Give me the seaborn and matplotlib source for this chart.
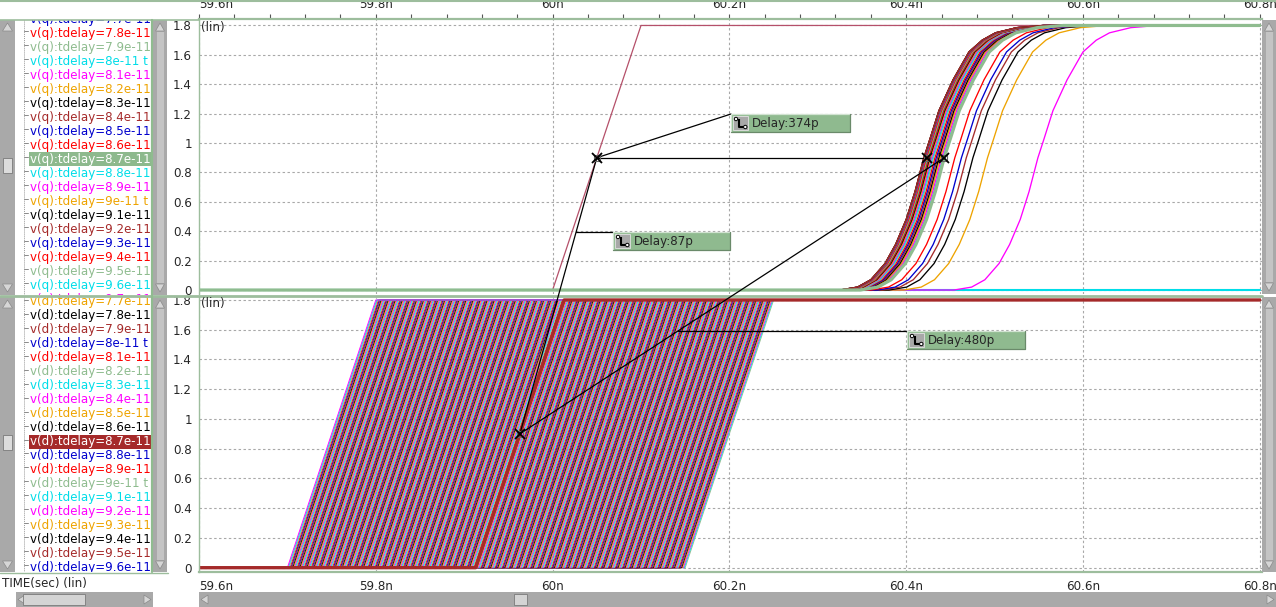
import numpy as np
import pandas as pd
import matplotlib
matplotlib.use("Agg")
import matplotlib.pyplot as plt
from matplotlib.patches import Rectangle, Polygon, Circle
from matplotlib.ticker import MultipleLocator
import seaborn as sns

# ------------------------------------------------------------------ data
VDD = 1.8
T_START, T_STOP = 59.6, 60.8          # ns

# colour cycle of the waveform viewer
COLOR_CYCLE = ["#ff0000", "#8fbc8f", "#00dde8", "#ff00ff",
               "#eea300", "#000000", "#a52a2a", "#0000cd"]
Q_COLOR_OFFSET = 78                   # tdelay (ps) of v(q) drawn with COLOR_CYCLE[0]
D_COLOR_OFFSET = 81                   # tdelay (ps) of v(d) drawn with COLOR_CYCLE[0]

# swept data-edge delay (ps) : .param sweep start / stop / step
TDELAY_START_PS, TDELAY_STOP_PS, TDELAY_STEP_PS = -150, 300, 1
D_EDGE_REF_NS = 60.0                  # d ramp starts at D_EDGE_REF_NS - tdelay
D_RISE_NS = 0.1

# clock (top panel)
CLK_T = [59.6, 60.0, 60.1, 60.8]
CLK_V = [0.0, 0.0, 1.8, 1.8]

# q outputs: tdelay (ps) and time of the 0.9 V crossing (ns)
Q_TDELAY_PS = [81, 82, 83, 84, 85, 86, 87, 88, 89, 90, 91, 92, 93, 94, 95,
               96, 97, 98, 99, 100, 102, 104, 106, 108, 110, 113, 116, 120,
               125, 130, 140, 150, 165, 180, 200, 225, 250, 275, 300]
Q_CROSS_NS = [60.549, 60.492, 60.4755, 60.468, 60.4625, 60.455, 60.443,
              60.4415, 60.440, 60.4385, 60.437, 60.4355, 60.434, 60.4325,
              60.431, 60.4298, 60.4286, 60.4275, 60.4265, 60.4256, 60.4248,
              60.424, 60.4233, 60.4227, 60.4222, 60.4218, 60.4215, 60.4212,
              60.421, 60.4208, 60.4206, 60.4205, 60.4204, 60.4203, 60.4202,
              60.4201, 60.420, 60.420, 60.420]
Q_FAIL_TDELAY_PS = [80]               # q never switches
HIGHLIGHT_TDELAY_PS = 87

# q edge shape: offset from 0.9 V crossing (ps), volts
Q_EDGE_OFFSET_PS = [-95, -75, -60, -44, -32, -20, -10, 0, 7, 17, 33, 51, 66, 81, 105, 135]
Q_EDGE_V = [0.0, 0.02, 0.07, 0.18, 0.31, 0.48, 0.67, 0.9, 1.03, 1.22, 1.43, 1.62, 1.70, 1.75, 1.785, 1.8]

# measurement markers (ns, V)
MEAS_A = (59.963, 0.9)    # d(tdelay=87p) 50 %
MEAS_B = (60.050, 0.9)    # clk 50 %
MEAS_C = (60.424, 0.9)    # first q 50 %
MEAS_D = (60.443, 0.9)    # q(tdelay=87p) 50 %
DELAY_LABELS = ["Delay:374p", "Delay:87p", "Delay:480p"]

# list-box entries
Q_LIST_TDELAY = ["7.7e-11", "7.8e-11", "7.9e-11", "8e-11", "8.1e-11", "8.2e-11",
                 "8.3e-11", "8.4e-11", "8.5e-11", "8.6e-11", "8.7e-11", "8.8e-11",
                 "8.9e-11", "9e-11", "9.1e-11", "9.2e-11", "9.3e-11", "9.4e-11",
                 "9.5e-11", "9.6e-11", "9.7e-11"]
D_LIST_TDELAY = Q_LIST_TDELAY[:20]

X_TICKS = [59.6, 59.8, 60.0, 60.2, 60.4, 60.6, 60.8]
X_TICK_LABELS = ["59.6n", "59.8n", "60n", "60.2n", "60.4n", "60.6n", "60.8n"]
Y_TICKS = [0, 0.2, 0.4, 0.6, 0.8, 1.0, 1.2, 1.4, 1.6, 1.8]
Y_TICK_LABELS = ["0", "0.2", "0.4", "0.6", "0.8", "1", "1.2", "1.4", "1.6", "1.8"]

# ------------------------------------------------------------------ style
sns.set_style("white")
plt.rcParams["font.family"] = ["DejaVu Sans"]
FS = 8.6
W, H = 1276, 607
GREENLINE = "#9dbd9d"
GRAY = "#a9a9a9"


def qcolor(td):
    return COLOR_CYCLE[(td - Q_COLOR_OFFSET) % 8]


def dcolor(td):
    return COLOR_CYCLE[(td - D_COLOR_OFFSET) % 8]


def rect(x0, y0, x1, y1):
    return [x0 / W, 1 - y1 / H, (x1 - x0) / W, (y1 - y0) / H]


fig = plt.figure(figsize=(W / 100, H / 100), dpi=100)
fig.patch.set_facecolor("white")

ax_q = fig.add_axes(rect(199, 19, 1262, 294))
ax_d = fig.add_axes(rect(199, 297, 1262, 572))

# ------------------------------------------------------------------ dataframes
d_tdelay = np.arange(TDELAY_START_PS, TDELAY_STOP_PS + 1, TDELAY_STEP_PS)
rows = []
for td in d_tdelay:
    s = D_EDGE_REF_NS - td / 1000.0
    for t, v in zip([T_START, s, s + D_RISE_NS, T_STOP], [0, 0, VDD, VDD]):
        rows.append(("d%d" % td, t, v))
df_d = pd.DataFrame(rows, columns=["trace", "t", "v"])
d_order = ["d%d" % td for td in d_tdelay]
d_pal = {"d%d" % td: dcolor(int(td)) for td in d_tdelay}

rows = []
for td, tc in zip(Q_TDELAY_PS, Q_CROSS_NS):
    pts = [(T_START, 0.0)] + [(tc + o / 1000.0, v) for o, v in zip(Q_EDGE_OFFSET_PS, Q_EDGE_V)] + [(T_STOP, VDD)]
    for t, v in pts:
        rows.append(("q%d" % td, t, v))
df_q = pd.DataFrame(rows, columns=["trace", "t", "v"])
q_order = ["q%d" % td for td in Q_TDELAY_PS]
q_pal = {"q%d" % td: qcolor(td) for td in Q_TDELAY_PS}

df_fail = pd.DataFrame([("q%d" % td, t, 0.0) for td in Q_FAIL_TDELAY_PS for t in (T_START, T_STOP)],
                       columns=["trace", "t", "v"])
df_clk = pd.DataFrame({"trace": "clk", "t": CLK_T, "v": CLK_V})


def lines(ax, df, pal, lw, order=None):
    sns.lineplot(data=df, x="t", y="v", hue="trace", hue_order=order, palette=pal,
                 estimator=None, sort=False, legend=False, linewidth=lw, ax=ax)


# ---- bottom panel : v(d)
lines(ax_d, df_d, d_pal, 0.65, d_order)
hl = "d%d" % HIGHLIGHT_TDELAY_PS
lines(ax_d, df_d[df_d.trace == hl], {hl: "#a52a2a"}, 2.4)

# ---- top panel : clk + v(q)
lines(ax_q, df_clk, {"clk": "#b5506a"}, 0.9)
lines(ax_q, df_fail, {"q%d" % td: qcolor(td) for td in Q_FAIL_TDELAY_PS}, 1.5)
lines(ax_q, df_q, q_pal, 0.95, q_order)
hq = "q%d" % HIGHLIGHT_TDELAY_PS
lines(ax_q, df_q[df_q.trace == hq], {hq: "#8fbc8f"}, 2.3)

# ------------------------------------------------------------------ axes styling
for ax, ylim in ((ax_q, (-0.027, 1.844)), (ax_d, (-0.029, 1.820))):
    ax.set_xlim(T_START, 60.8025)
    ax.set_ylim(*ylim)
    ax.set_xlabel("")
    ax.set_ylabel("")
    ax.set_facecolor("white")
    ax.set_axisbelow(True)
    ax.grid(True, which="major", color="#a8a8a8", linestyle=(0, (2.2, 2.2)), linewidth=0.8)
    ax.set_xticks(X_TICKS, X_TICK_LABELS)
    ax.set_yticks(Y_TICKS, Y_TICK_LABELS)
    ax.xaxis.set_minor_locator(MultipleLocator(0.04))
    ax.yaxis.set_minor_locator(MultipleLocator(0.04))
    ax.tick_params(axis="y", which="major", length=4.3, width=0.8, color="#555555",
                   pad=0.8, labelsize=FS, direction="out")
    ax.tick_params(axis="y", which="minor", length=2.2, width=0.6, color="#777777", direction="out")
    ax.tick_params(axis="x", which="both", length=3.8, width=0.8, color="#555555",
                   pad=1.6, labelsize=FS, direction="out")
    for s in ax.spines.values():
        s.set_visible(False)
    ax.spines["left"].set_visible(True)
    ax.spines["left"].set_color(GREENLINE)
    ax.spines["left"].set_linewidth(1.0)

ax_q.xaxis.tick_top()
ax_q.spines["top"].set_visible(True)
ax_q.spines["top"].set_color(GREENLINE)
ax_q.spines["top"].set_linewidth(1.6)
ax_d.spines["bottom"].set_visible(True)
ax_d.spines["bottom"].set_color(GREENLINE)
ax_d.spines["bottom"].set_linewidth(1.6)
for ax in (ax_q, ax_d):
    ax.get_xticklabels()[0].set_ha("left")

# ------------------------------------------------------------------ list boxes
def listbox(y_top, y_bot, first_y, step, prefix, entries, colfun, hl_bg):
    lb = fig.add_axes(rect(15, y_top, 151, y_bot))
    lb.set_xlim(15, 151)
    lb.set_ylim(y_bot, y_top)
    lb.axis("off")
    lb.plot([24, 24], [y_top, y_bot], color="#9a9a9a", lw=0.7, ls=(0, (1, 1)))
    for i, s in enumerate(entries):
        y = first_y + i * step
        td = int(round(float(s) * 1e12))
        lb.plot([24, 28], [y - 2, y - 2], color="#8a8a8a", lw=0.7)
        col = colfun(td)
        if td == HIGHLIGHT_TDELAY_PS:
            lb.add_patch(Rectangle((29, y - 7), 123, 14, fc=hl_bg, ec="none", clip_on=True))
            col = "white"
        lb.text(29.5, y, "%s:tdelay=%s t" % (prefix, s), color=col, fontsize=FS,
                va="center", ha="left", clip_on=True)


listbox(20, 295, 19, 14.0, "v(q)", Q_LIST_TDELAY, qcolor, "#8db98d")
listbox(297, 572, 302, 13.95, "v(d)", D_LIST_TDELAY, dcolor, "#a52a2a")

# ------------------------------------------------------------------ overlay (chrome + measurements)
ov = fig.add_axes([0, 0, 1, 1], zorder=10)
ov.set_xlim(0, W)
ov.set_ylim(H, 0)
ov.axis("off")
ov.patch.set_alpha(0)

# separators
ov.plot([0, W], [0.8, 0.8], color=GREENLINE, lw=1.5)
ov.plot([0, 199], [19.5, 19.5], color=GREENLINE, lw=1.2)
ov.plot([0, 1262], [295.5, 295.5], color=GREENLINE, lw=2.0)
for (y0, y1) in ((20, 295), (297, 572)):
    ov.plot([152, 152], [y0, y1], color="#8fbc8f", lw=1.6)
ov.plot([0, 168], [572.5, 572.5], color=GREENLINE, lw=1.0)


def vscroll(x0, x1, y0, y1, thumb=None, inner=False):
    ov.add_patch(Rectangle((x0, y0), x1 - x0, y1 - y0, fc=GRAY, ec="none"))
    if inner:
        ov.add_patch(Rectangle((x0 + 3.5, y0 + 12), x1 - x0 - 7, y1 - y0 - 24, fc="#c4c4c4", ec="none"))
    cx = (x0 + x1) / 2
    ov.add_patch(Polygon([(cx, y0 + 3), (x0 + 2.5, y0 + 11), (x1 - 2.5, y0 + 11)],
                         fc="#d6d6d6", ec="#8a8a8a", lw=0.5))
    ov.add_patch(Polygon([(cx, y1 - 3), (x0 + 2.5, y1 - 11), (x1 - 2.5, y1 - 11)],
                         fc="#d6d6d6", ec="#8a8a8a", lw=0.5))
    if thumb:
        ov.add_patch(Rectangle((x0 + 3, thumb[0]), x1 - x0 - 6, thumb[1] - thumb[0],
                               fc="#dcdcdc", ec="#7a7a7a", lw=0.6))


def hscroll(x0, x1, y0, y1, thumb=None):
    ov.add_patch(Rectangle((x0, y0), x1 - x0, y1 - y0, fc=GRAY, ec="none"))
    cy = (y0 + y1) / 2
    ov.add_patch(Polygon([(x0 + 2, cy), (x0 + 9, y0 + 3), (x0 + 9, y1 - 3)],
                         fc="#d6d6d6", ec="#8a8a8a", lw=0.5))
    ov.add_patch(Polygon([(x1 - 2, cy), (x1 - 9, y0 + 3), (x1 - 9, y1 - 3)],
                         fc="#d6d6d6", ec="#8a8a8a", lw=0.5))
    if thumb:
        ov.add_patch(Rectangle((thumb[0], y0 + 2), thumb[1] - thumb[0], y1 - y0 - 4,
                               fc="#d4d4d4", ec="#7a7a7a", lw=0.6))


vscroll(0, 15, 20, 295, thumb=(158, 173))
vscroll(0, 15, 297, 572, thumb=(435, 450))
vscroll(153, 167, 20, 295, inner=True)
vscroll(153, 167, 297, 572, inner=True)
vscroll(1262, 1276, 20, 294, inner=True)
vscroll(1262, 1276, 297, 572, inner=True)
hscroll(16, 153, 592, 607, thumb=(23, 85))
hscroll(199, 1276, 592, 607, thumb=(514, 527))

ov.text(2, 584, "TIME(sec) (lin)", fontsize=FS, va="center", ha="left")
ov.text(201, 28, "(lin)", fontsize=FS, va="center", ha="left")
ov.text(201, 304, "(lin)", fontsize=FS, va="center", ha="left")


# measurement lines
def to_px(ax, pt):
    X, Y = ax.transData.transform(pt)
    return X, H - Y


A = to_px(ax_d, MEAS_A)
B = to_px(ax_q, MEAS_B)
C = to_px(ax_q, MEAS_C)
D = to_px(ax_q, MEAS_D)


def at_y(P, Q, y):
    f = (y - P[1]) / (Q[1] - P[1])
    return P[0] + f * (Q[0] - P[0])


LBL_374 = (731, 114, 850, 132)
LBL_87 = (613, 232, 730, 250)
LBL_480 = (907, 331, 1025, 349)

k = dict(color="black", lw=0.9, zorder=4)
ov.plot([A[0], B[0]], [A[1], B[1]], **k)
ov.plot([B[0], C[0]], [B[1], C[1]], **k)
ov.plot([A[0], D[0]], [A[1], D[1]], **k)
ov.plot([B[0], LBL_374[0]], [B[1], LBL_374[1]], **k)
ov.plot([at_y(A, B, LBL_87[1]), LBL_87[0]], [LBL_87[1], LBL_87[1]], **k)
ov.plot([at_y(A, D, LBL_480[1]), LBL_480[0]], [LBL_480[1], LBL_480[1]], **k)

for P in (A, B, C, D):
    ov.plot([P[0]], [P[1]], marker="s", ms=4, mfc="none", mec="#666666", mew=0.8, zorder=5)
    ov.plot([P[0]], [P[1]], marker="x", ms=7, mew=1.3, color="black", zorder=5)


def label_box(box, text):
    x0, y0, x1, y1 = box
    ov.add_patch(Rectangle((x0, y0), x1 - x0, y1 - y0, fc="#8fba8f", ec="none", zorder=6))
    ov.plot([x0, x0, x1], [y1, y0, y0], color="#d2e3d2", lw=0.9, zorder=7)
    ov.plot([x0, x1, x1], [y1, y1, y0], color="#6a8a6a", lw=0.9, zorder=7)
    ov.add_patch(Rectangle((x0 + 2, y0 + 2), 15, y1 - y0 - 4, fc="#a8a8a8", ec="#e2e2e2", lw=0.6, zorder=7))
    ov.plot([x0 + 8, x0 + 8, x0 + 12.5], [y0 + 5, y1 - 5, y1 - 5], color="black", lw=1.5,
            zorder=8, solid_capstyle="butt")
    ov.add_patch(Circle((x0 + 5, y0 + 5), 1.7, fc="white", ec="black", lw=0.7, zorder=8))
    ov.add_patch(Circle((x0 + 14.3, y1 - 5), 1.7, fc="white", ec="black", lw=0.7, zorder=8))
    ov.text(x0 + 21, (y0 + y1) / 2 + 0.5, text, fontsize=FS, va="center", ha="left", zorder=8)


label_box(LBL_374, DELAY_LABELS[0])
label_box(LBL_87, DELAY_LABELS[1])
label_box(LBL_480, DELAY_LABELS[2])

fig.savefig("out.png", dpi=100)
